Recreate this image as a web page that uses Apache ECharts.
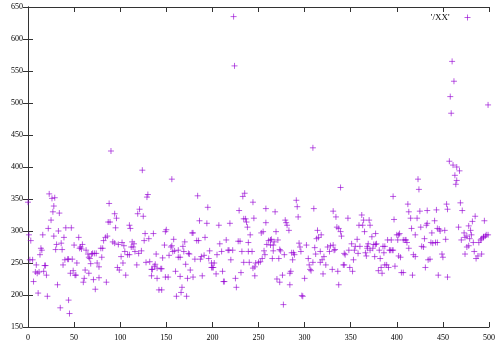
<!DOCTYPE html>
<html>
<head>
<meta charset="utf-8">
<script src="https://cdn.jsdelivr.net/npm/echarts@6/dist/echarts.min.js"></script>
<style>html,body{margin:0;padding:0;background:#fff}#c{width:500px;height:349px}</style>
</head>
<body>
<div id="c"></div>
<script>
const seriesName = "'/XX'";
const xTicks = [0, 50, 100, 150, 200, 250, 300, 350, 400, 450, 500];
const yTicks = [150, 200, 250, 300, 350, 400, 450, 500, 550, 600, 650];
// point x positions (index) and values
const xs = [
0,1,3,2,5,6,8,10,12,9,11,13,14,15,16,17,18,19,20,21,22,23,25,26,27,28,29,28,30,31,32,34,33,35,36,37,38,39,40,41,43,44,44,45,46,47,48,49,50,51,52,53,55,56,57,58,59,60,61,62,63,65,66,66,67,68,69,70,72,71,73,74,75,77,77,79,81,80,82,84,85,86,87,89,88,90,92,94,94,95,96,97,98,99,101,102,104,103,105,106,108,110,110,111,112,114,115,113,116,118,119,120,121,
124,156,129,130,125,127,126,131,136,123,128,132,134,135,138,137,140,134,140,144,145,142,145,139,146,148,149,150,149,152,153,155,156,158,157,159,160,161,163,163,165,165,167,166,168,169,170,171,172,173,174,175,176,178,179,179,181,183,185,184,186,187,188,189,192,191,194,195,196,197,199,199,200,201,202,204,205,207,208,210,211,212,213,215,217,218,219,220,222,225,226,228,230,229,231,232,233,235,234,236,237,238,239,239,223,224,
244,245,241,243,234,240,246,244,246,247,250,252,254,253,255,258,258,256,257,259,261,263,264,263,266,266,267,265,268,269,271,272,273,270,273,274,276,277,278,279,280,281,283,284,284,285,286,288,287,289,291,292,293,294,295,296,297,298,300,302,304,305,306,307,309,310,311,312,314,313,315,317,318,317,319,320,321,323,325,327,328,330,331,331,332,333,334,335,337,336,337,339,339,340,342,343,343,344,347,348,349,351,353,354,355,357,358,359,309,
352,360,362,364,363,365,366,367,368,368,369,370,371,371,373,374,375,377,378,376,377,380,381,382,384,383,385,387,386,387,389,390,391,392,393,395,394,396,397,396,398,400,402,401,403,402,404,405,407,407,409,410,411,412,413,415,416,413,417,418,420,420,422,423,424,425,426,427,429,430,431,432,433,433,434,436,437,438,439,441,442,444,443,444,446,445,447,449,450,452,453,454,455,455,457,461,465,468,463,465,464,467,469,471,470,473,474,474,476,476,478,478,479,481,480,482,483,484,485,486,488,489,491,492,494,492,494,496,495,497,499,458,459,460,462,499
];
const ys = [
345,294,285,255,255,221,236,234,236,247,203,263,273,270,294,237,246,246,231,198,304,358,317,351,330,339,352,292,271,279,216,328,300,180,281,271,247,290,255,305,256,256,192,171,234,305,256,238,278,231,231,250,290,273,275,272,279,220,226,239,270,264,259,234,257,249,264,265,265,224,209,265,250,227,244,273,273,259,285,290,220,292,314,314,343,425,283,327,281,305,320,243,279,239,260,282,277,250,268,231,263,263,309,304,275,275,280,283,268,247,327,265,334,
395,381,353,357,323,296,285,288,296,269,251,252,240,240,248,245,242,230,226,241,241,208,208,264,258,278,299,302,228,228,262,275,277,287,268,269,237,198,270,259,259,229,212,204,276,268,283,248,198,226,265,264,239,297,297,228,256,285,285,355,316,256,260,230,290,262,312,337,257,269,250,243,243,243,250,233,263,309,280,268,237,221,221,286,270,270,312,255,270,226,212,284,284,332,235,268,354,359,319,319,314,306,282,268,635,558,
345,320,294,268,251,251,230,242,244,250,251,252,257,297,299,335,313,269,263,279,285,286,287,278,278,269,283,257,330,299,286,257,271,225,220,269,231,185,263,317,313,309,301,216,234,237,266,266,255,263,348,338,322,281,275,268,199,198,226,278,257,247,240,238,251,335,274,264,301,288,290,268,294,251,255,233,260,247,275,268,277,240,331,278,270,271,322,306,304,237,216,368,299,292,247,247,265,263,320,270,243,280,255,270,276,287,265,309,430,
237,276,325,317,309,299,266,261,273,276,280,317,309,270,291,273,279,279,280,260,296,238,270,257,234,243,276,276,266,247,247,286,243,270,270,270,286,354,318,270,245,294,294,286,296,261,259,235,235,286,286,286,282,342,330,320,304,273,231,263,260,294,320,381,365,331,306,276,275,288,243,309,312,332,255,256,282,297,281,316,282,282,333,304,303,231,300,264,259,301,287,342,334,228,409,403,400,394,387,379,373,306,344,332,286,297,264,290,292,275,308,277,288,294,301,315,282,268,323,257,261,282,286,288,290,264,291,292,316,294,294,510,484,565,534,497
];

const points = xs.map((x, i) => [x, ys[i]]);
const chart = echarts.init(document.getElementById('c'), null, {renderer: 'canvas'});
const FONT = 'Liberation Serif';
const axisCommon = {
  type: 'value',
  axisLine: {show: true, lineStyle: {color: '#333', width: 1}},
  axisTick: {show: true, inside: true, length: 5, lineStyle: {color: '#333'}},
  splitLine: {show: false}
};
chart.setOption({
  animation: false,
  backgroundColor: '#fff',
  grid: {left: 28, right: 11, top: 7, bottom: 22, containLabel: false},
  legend: {
    data: [seriesName],
    right: 29, top: 13, padding: 0,
    align: 'right',
    itemWidth: 26, itemHeight: 6,
    textStyle: {fontFamily: FONT, fontSize: 9, color: '#000'},
    itemStyle: {color: 'rgba(0,0,0,0)', borderColor: 'rgba(148,0,211,0.8)', borderWidth: 1}
  },
  xAxis: [
    Object.assign({}, axisCommon, {
      position: 'bottom', min: xTicks[0], max: xTicks[xTicks.length - 1], interval: 50,
      axisLabel: {fontFamily: FONT, fontSize: 8, color: '#000', margin: 7}
    }),
    Object.assign({}, axisCommon, {
      position: 'top', min: xTicks[0], max: xTicks[xTicks.length - 1], interval: 50,
      axisLabel: {show: false}
    })
  ],
  yAxis: [
    Object.assign({}, axisCommon, {
      position: 'left', min: yTicks[0], max: yTicks[yTicks.length - 1], interval: 50,
      axisLabel: {fontFamily: FONT, fontSize: 8, color: '#000', margin: 5}
    }),
    Object.assign({}, axisCommon, {
      position: 'right', min: yTicks[0], max: yTicks[yTicks.length - 1], interval: 50,
      axisLabel: {show: false}
    })
  ],
  series: [{
    name: seriesName,
    type: 'scatter',
    xAxisIndex: 0, yAxisIndex: 0,
    data: points,
    symbol: 'path://M0,5L10,5M5,0L5,10',
    symbolSize: 6,
    itemStyle: {color: 'rgba(0,0,0,0)', borderColor: 'rgba(148,0,211,0.8)', borderWidth: 1},
    emphasis: {disabled: true}
  }]
});
</script>
</body>
</html>
